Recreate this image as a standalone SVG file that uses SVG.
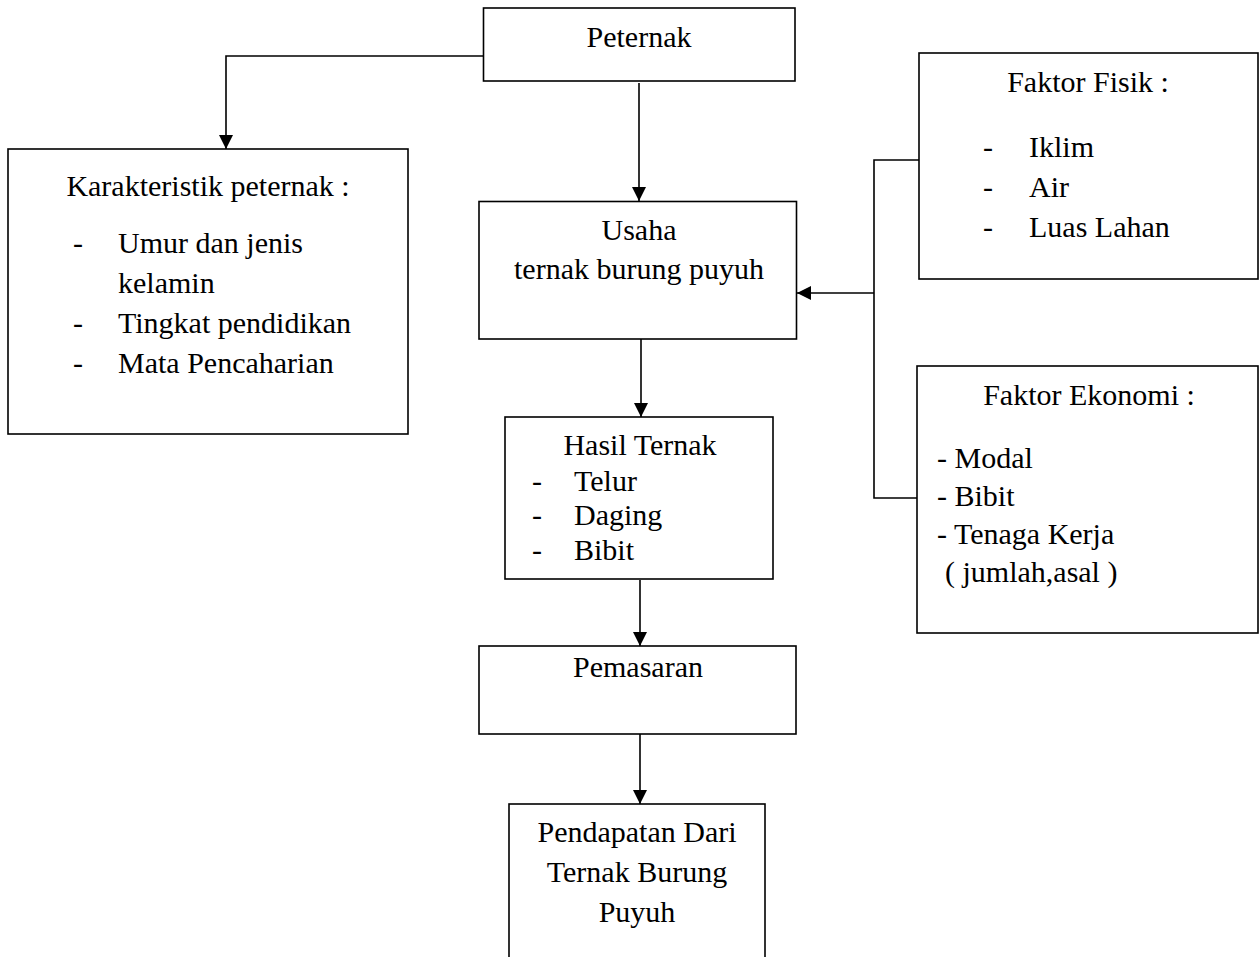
<svg xmlns="http://www.w3.org/2000/svg" width="1259" height="957" viewBox="0 0 1259 957">
<style>
  .box { fill: #fff; stroke: #000; stroke-width: 1.6; }
  .t { font-family: "Liberation Serif", "Times New Roman", serif; font-size: 30px; fill: #000; }
  .c { text-anchor: middle; }
  .ln { fill: none; stroke: #000; stroke-width: 1.6; }
</style>
<defs>
  <marker id="arr" markerUnits="userSpaceOnUse" markerWidth="15" markerHeight="15" refX="14" refY="7" orient="auto">
    <path d="M0,0 L14,7 L0,14 z" fill="#000"/>
  </marker>
</defs>
<rect width="1259" height="957" fill="#fff"/>

<g id="connectors">
  <path class="ln" d="M483,56 H226 V149" marker-end="url(#arr)"/>
  <path class="ln" d="M639,83 V201" marker-end="url(#arr)"/>
  <path class="ln" d="M641,339 V417" marker-end="url(#arr)"/>
  <path class="ln" d="M640,580 V646" marker-end="url(#arr)"/>
  <path class="ln" d="M640,734 V804" marker-end="url(#arr)"/>
  <path class="ln" d="M919,160 H874 V498 H920"/>
  <path class="ln" d="M874,293 H797" marker-end="url(#arr)"/>
</g>

<g id="peternak">
  <rect class="box" x="483.5" y="8" width="311.5" height="73"/>
  <text class="t c" x="639" y="47">Peternak</text>
</g>

<g id="karakteristik">
  <rect class="box" x="8" y="149" width="400" height="285"/>
  <text class="t c" x="208" y="196">Karakteristik peternak :</text>
  <text class="t" x="73" y="253">-</text>
  <text class="t" x="118" y="253">Umur dan jenis</text>
  <text class="t" x="118" y="293">kelamin</text>
  <text class="t" x="73" y="333">-</text>
  <text class="t" x="118" y="333">Tingkat pendidikan</text>
  <text class="t" x="73" y="373">-</text>
  <text class="t" x="118" y="373">Mata Pencaharian</text>
</g>

<g id="usaha">
  <rect class="box" x="479" y="201.5" width="317.5" height="137.5"/>
  <text class="t c" x="639" y="240">Usaha</text>
  <text class="t c" x="639" y="279">ternak burung puyuh</text>
</g>

<g id="hasil">
  <rect class="box" x="505" y="417" width="268" height="162"/>
  <text class="t c" x="640" y="455">Hasil Ternak</text>
  <text class="t" x="532" y="491">-</text>
  <text class="t" x="574" y="491">Telur</text>
  <text class="t" x="532" y="525">-</text>
  <text class="t" x="574" y="525">Daging</text>
  <text class="t" x="532" y="560">-</text>
  <text class="t" x="574" y="560">Bibit</text>
</g>

<g id="pemasaran">
  <rect class="box" x="479" y="646" width="317" height="88"/>
  <text class="t c" x="638" y="677">Pemasaran</text>
</g>

<g id="pendapatan">
  <rect class="box" x="509" y="804" width="256" height="170"/>
  <text class="t c" x="637" y="842">Pendapatan Dari</text>
  <text class="t c" x="637" y="882">Ternak Burung</text>
  <text class="t c" x="637" y="922">Puyuh</text>
</g>

<g id="fisik">
  <rect class="box" x="919" y="53" width="339" height="226"/>
  <text class="t c" x="1088" y="92">Faktor Fisik :</text>
  <text class="t" x="983" y="157">-</text>
  <text class="t" x="1029" y="157">Iklim</text>
  <text class="t" x="983" y="197">-</text>
  <text class="t" x="1029" y="197">Air</text>
  <text class="t" x="983" y="237">-</text>
  <text class="t" x="1029" y="237">Luas Lahan</text>
</g>

<g id="ekonomi">
  <rect class="box" x="917" y="366" width="341" height="267"/>
  <text class="t c" x="1089" y="405">Faktor Ekonomi :</text>
  <text class="t" x="937" y="468">- Modal</text>
  <text class="t" x="937" y="506">- Bibit</text>
  <text class="t" x="937" y="544">- Tenaga Kerja</text>
  <text class="t" x="945" y="582">( jumlah,asal )</text>
</g>
</svg>
